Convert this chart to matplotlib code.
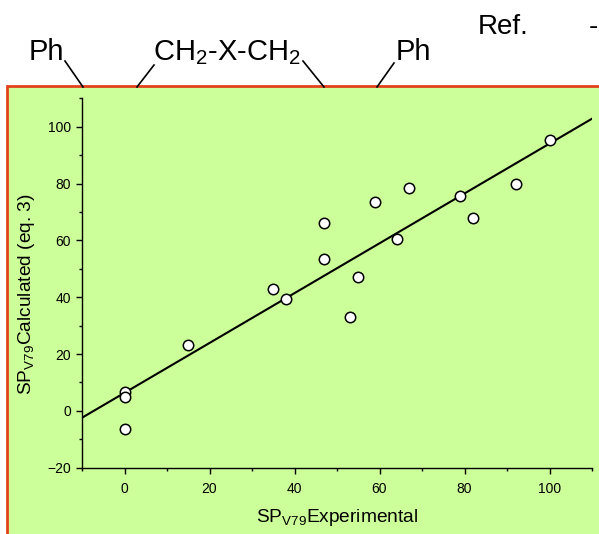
import matplotlib
matplotlib.use('Agg')
import matplotlib.pyplot as plt
import matplotlib.patches as patches
import numpy as np

plt.rcParams['font.family'] = ['Liberation Sans', 'DejaVu Sans']
plt.rcParams['mathtext.fontset'] = 'custom'
plt.rcParams['mathtext.rm'] = 'Liberation Sans'
plt.rcParams['mathtext.it'] = 'Liberation Sans:italic'

# Experimental vs calculated values
sp_exp = [0, 0, 0, 15, 35, 38, 47, 47, 53, 55, 59, 64, 67, 79, 82, 92, 100]
sp_calc = [6.5, 4.8, -6.4, 23.2, 43, 39.2, 66, 53.4, 33.1, 47.2, 73.5,
           60.5, 78.3, 75.5, 67.7, 79.7, 95.5]

# Fitted line
fit_slope = 0.877
fit_intercept = 6.35
fit_x = np.array([-10, 110])

x_ticks = [0, 20, 40, 60, 80, 100]
y_ticks = [-20, 0, 20, 40, 60, 80, 100]

W, H = 599, 534
fig = plt.figure(figsize=(W / 100, H / 100), dpi=100)

# green panel with red border
panel = patches.Rectangle((7 / W, -0.1), 1.2, 1 - 86 / H + 0.1,
                          transform=fig.transFigure, facecolor='#CCFF99',
                          edgecolor='#E2421B', linewidth=2, zorder=-1)
fig.add_artist(panel)

ax = fig.add_axes([82 / W, 1 - 467.7 / H, 510 / W, 369.4 / H])
ax.set_facecolor('none')

ax.plot(fit_x, fit_slope * fit_x + fit_intercept, color='black', lw=1.5,
        zorder=2)
ax.plot(sp_exp, sp_calc, 'o', markersize=7.5, markerfacecolor='white',
        markeredgecolor='black', markeredgewidth=1.1, zorder=3)

ax.set_xlim(-10, 110)
ax.set_ylim(-20, 110)
ax.set_xticks(x_ticks)
ax.set_yticks(y_ticks)
ax.set_xticks(np.arange(-10, 111, 20), minor=True)
ax.set_yticks(np.arange(-10, 111, 20), minor=True)

for side in ['top', 'right']:
    ax.spines[side].set_visible(False)
for side in ['left', 'bottom']:
    ax.spines[side].set_linewidth(1.0)

ax.tick_params(which='major', direction='out', length=4, width=1.0,
               labelsize=10)
ax.tick_params(axis='x', which='major', pad=6)
ax.tick_params(axis='y', which='major', pad=4)
ax.tick_params(which='minor', direction='out', length=2.5, width=1.0)

fig.text(337 / W, 1 - 522 / H, r'SP$_{\mathrm{V79}}$Experimental',
         ha='center', va='baseline', fontsize=13.8)
fig.text(27 / W, 1 - 294 / H, r'SP$_{\mathrm{V79}}$Calculated (eq. 3)',
         ha='center', va='center', rotation=90, fontsize=13.8)

# header labels
fig.text(29 / W, 1 - 60 / H, 'Ph', ha='left', va='baseline', fontsize=21)
fig.text(153 / W, 1 - 60 / H, r'CH$_2$-X-CH$_2$', ha='left', va='baseline',
         fontsize=21)
fig.text(396 / W, 1 - 60 / H, 'Ph', ha='left', va='baseline', fontsize=21)
fig.text(478 / W, 1 - 34 / H, 'Ref.', ha='left', va='baseline', fontsize=20)
fig.text(589 / W, 1 - 34 / H, '-', ha='left', va='baseline', fontsize=20)

header_lines = [((65, 61), (83, 87)), ((154, 65), (137, 87)),
                ((303, 61), (324, 87)), ((394, 63), (377, 87))]
for (x0, y0), (x1, y1) in header_lines:
    fig.add_artist(plt.Line2D([x0 / W, x1 / W], [1 - y0 / H, 1 - y1 / H],
                              transform=fig.transFigure, color='black',
                              lw=1.2))

fig.savefig('out.png', dpi=100)
